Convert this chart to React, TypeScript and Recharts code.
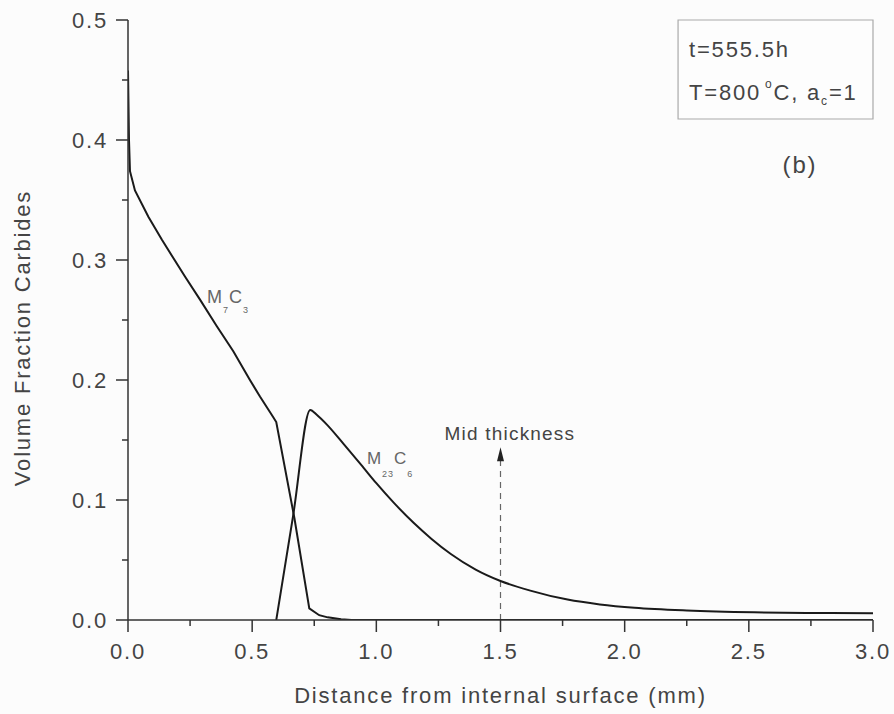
import React from 'react'
import {
  LineChart,
  Line,
  XAxis,
  YAxis,
  ReferenceLine,
  ReferenceDot,
  ReferenceArea,
  Label,
} from 'recharts'

// M7C3 profile
const m7c3X = [0, 0.004, 0.008, 0.028, 0.082, 0.136, 0.23, 0.29, 0.357, 0.424, 0.491, 0.532, 0.585, 0.597, 0.67, 0.73, 0.77, 0.804, 0.858, 0.9, 3.0]
const m7c3Y = [0.458, 0.4, 0.374, 0.358, 0.336, 0.317, 0.286, 0.267, 0.245, 0.224, 0.2, 0.186, 0.169, 0.165, 0.085, 0.0097, 0.004, 0.0022, 0.0006, 0, 0]

// M23C6 profile (zero before 0.597, hidden under the axis)
const m23c6X = [0.597, 0.665, 0.734, 0.76, 0.8, 0.867, 0.948, 1.0, 1.069, 1.15, 1.22, 1.3, 1.4, 1.5, 1.62, 1.77, 1.9, 2.04, 2.25, 2.52, 2.75, 3.0]
const m23c6Y = [0, 0.087, 0.175, 0.171, 0.163, 0.147, 0.127, 0.114, 0.098, 0.081, 0.068, 0.055, 0.042, 0.0325, 0.0245, 0.017, 0.013, 0.0102, 0.0079, 0.0064, 0.0059, 0.0057]

const xTicks = [0, 0.25, 0.5, 0.75, 1, 1.25, 1.5, 1.75, 2, 2.25, 2.5, 2.75, 3]
const yTicks = [0, 0.05, 0.1, 0.15, 0.2, 0.25, 0.3, 0.35, 0.4, 0.45, 0.5]

const midThickness = 1.5

const m7c3Data = m7c3X.map((x, i) => ({ x, y: m7c3Y[i] }))
const m23c6Data = m23c6X.map((x, i) => ({ x, y: m23c6Y[i] }))

const FONT = '"Liberation Sans", Arial, Helvetica, sans-serif'
const AXIS = '#333'
const TEXT = '#444'
const NOTE = '#666'

const XTick = ({ x, y, payload }: any) => {
  const v = payload.value
  const major = Math.round(v * 100) % 50 === 0
  return (
    <g>
      <line x1={x} y1={y} x2={x} y2={y + (major ? 12 : 6)} stroke={AXIS} strokeWidth={1.5} />
      {major && (
        <text x={x} y={y + 39} textAnchor="middle" fontSize={22} fill={TEXT} fontFamily={FONT} letterSpacing="1.8">
          {v.toFixed(1)}
        </text>
      )}
    </g>
  )
}

const YTick = ({ x, y, payload }: any) => {
  const v = payload.value
  const major = Math.round(v * 100) % 10 === 0
  return (
    <g>
      <line x1={x} y1={y} x2={x - (major ? 12 : 6)} y2={y} stroke={AXIS} strokeWidth={1.5} />
      {major && (
        <text x={x - 20} y={y + 8} textAnchor="end" fontSize={22} fill={TEXT} fontFamily={FONT} letterSpacing="1.8">
          {v.toFixed(1)}
        </text>
      )}
    </g>
  )
}

// M_a C_b style label, anchored at the dot position
const phaseLabel = (m: string, c: string, size: number, drop: number) => (props: any) => (
  <text x={props.cx} y={props.cy} fontSize={size} fill={NOTE} fontFamily={FONT} letterSpacing="1">
    M
    <tspan fontSize={9} dy={drop}>{m}</tspan>
    <tspan dy={-drop}>C</tspan>
    <tspan fontSize={9} dy={drop}>{c}</tspan>
  </text>
)

const MidArrow = (props: any) => {
  const { x1, y1, x2, y2 } = props
  const top = Math.min(y1, y2)
  const bottom = Math.max(y1, y2)
  return (
    <g>
      <line x1={x1} y1={bottom} x2={x2} y2={top + 13} stroke="#666" strokeWidth={1.2} strokeDasharray="6 5" />
      <path d={`M${x1},${top} L${x1 - 3.5},${top + 14} L${x1 + 3.5},${top + 14} Z`} fill="#222" />
    </g>
  )
}

export default function App() {
  return (
    <div style={{ position: 'absolute', left: 0, top: 0, width: 894, height: 714, background: '#fcfcfc' }}>
      <LineChart width={894} height={714} margin={{ top: 20, right: 21, left: 0, bottom: 0 }}>
        <XAxis
          type="number"
          dataKey="x"
          domain={[0, 3]}
          ticks={xTicks}
          interval={0}
          allowDataOverflow
          height={94}
          tickSize={0}
          tickMargin={0}
          tickLine={false}
          tick={XTick}
          axisLine={{ stroke: AXIS, strokeWidth: 1.5 }}
        >
          <Label
            content={({ viewBox }: any) => (
              <text
                x={viewBox.x + viewBox.width / 2}
                y={viewBox.y + 83}
                textAnchor="middle"
                fontSize={22}
                fill={TEXT}
                fontFamily={FONT}
                letterSpacing="1.8"
              >
                Distance from internal surface (mm)
              </text>
            )}
          />
        </XAxis>
        <YAxis
          type="number"
          dataKey="y"
          domain={[0, 0.5]}
          ticks={yTicks}
          interval={0}
          allowDataOverflow
          width={128}
          tickSize={0}
          tickMargin={0}
          tickLine={false}
          tick={YTick}
          axisLine={{ stroke: AXIS, strokeWidth: 1.5 }}
        >
          <Label
            content={({ viewBox }: any) => {
              const cx = viewBox.x + 30
              const cy = viewBox.y + viewBox.height / 2 + 18
              return (
                <text
                  x={cx}
                  y={cy}
                  transform={`rotate(-90 ${cx} ${cy})`}
                  textAnchor="middle"
                  fontSize={22}
                  fill={TEXT}
                  fontFamily={FONT}
                  letterSpacing="1.8"
                >
                  Volume Fraction Carbides
                </text>
              )
            }}
          />
        </YAxis>

        <ReferenceArea
          x1={2.215}
          x2={3}
          y1={0.4175}
          y2={0.5}
          fill="#fdfdfd"
          fillOpacity={1}
          stroke="#aaa"
          strokeWidth={1.2}
          label={{
            content: ({ viewBox }: any) => (
              <g fontFamily={FONT} fontSize={22} fill={TEXT} letterSpacing="1.8">
                <text x={viewBox.x + 11} y={viewBox.y + 37}>t=555.5h</text>
                <text x={viewBox.x + 11} y={viewBox.y + 80}>
                  T=800
                  <tspan fontSize={12} dx={4} dy={-12}>o</tspan>
                  <tspan dy={12}>C, a</tspan>
                  <tspan fontSize={12} dy={5}>c</tspan>
                  <tspan dy={-5}>=1</tspan>
                </text>
              </g>
            ),
          }}
        />

        <ReferenceLine
          segment={[
            { x: midThickness, y: 0 },
            { x: midThickness, y: 0.144 },
          ]}
          shape={MidArrow}
        />

        <Line
          data={m7c3Data}
          dataKey="y"
          type="linear"
          stroke="#1a1a1a"
          strokeWidth={2}
          dot={false}
          isAnimationActive={false}
        />
        <Line
          data={m23c6Data}
          dataKey="y"
          type="monotone"
          stroke="#1a1a1a"
          strokeWidth={2}
          dot={false}
          isAnimationActive={false}
        />

        <ReferenceDot x={0.318} y={0.264} r={0} shape={phaseLabel('7', '3', 18, 10)} />
        <ReferenceDot x={0.962} y={0.13} r={0} shape={phaseLabel('23', '6', 17, 13)} />
        <ReferenceDot
          x={1.538}
          y={0.15}
          r={0}
          shape={(p: any) => (
            <text x={p.cx} y={p.cy} textAnchor="middle" fontSize={19} fill={TEXT} fontFamily={FONT} letterSpacing="1.2">
              Mid thickness
            </text>
          )}
        />
        <ReferenceDot
          x={2.706}
          y={0.3725}
          r={0}
          shape={(p: any) => (
            <text x={p.cx} y={p.cy} textAnchor="middle" fontSize={24} fill={TEXT} fontFamily={FONT} letterSpacing="1.8">
              (b)
            </text>
          )}
        />
      </LineChart>
    </div>
  )
}
